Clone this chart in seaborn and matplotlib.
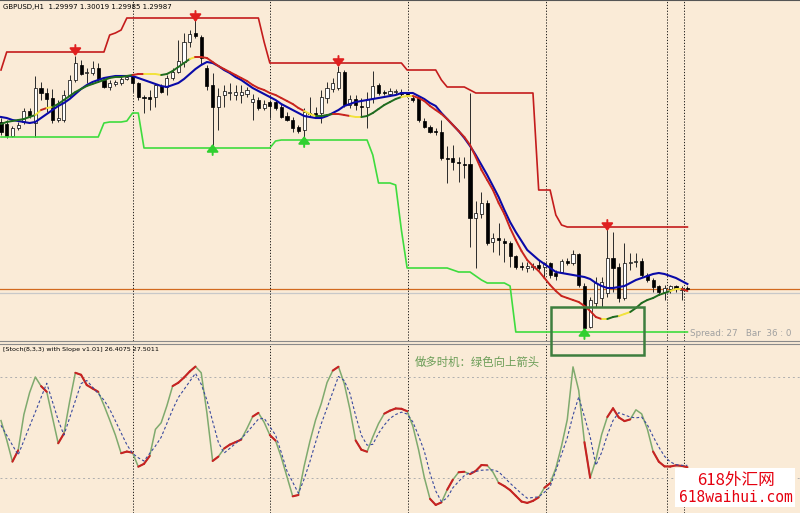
import numpy as np
import pandas as pd
import matplotlib
matplotlib.use("Agg")
import matplotlib.pyplot as plt
import seaborn as sns
from matplotlib.patches import Rectangle

# GBPUSD H1 - 121 bars, prices kept as pips above 1.2900
base = 1.2900

opens = [266, 264, 252, 260, 266, 277, 265, 300, 295, 290,
         268, 268, 293, 308, 323, 315, 315, 320, 308, 301,
         304, 305, 309, 312, 305, 291, 291, 291, 302, 301,
         310, 316, 326, 346, 355, 351, 320, 303, 281, 293,
         295, 293, 293, 294, 286, 288, 280, 286, 286, 281,
         272, 268, 261, 258, 275, 275, 275, 290, 299, 300,
         316, 283, 289, 282, 281, 290, 303, 296, 294, 296,
         296, 295, 290, 290, 267, 261, 257, 256, 230, 230,
         226, 224, 224, 170, 174, 185, 146, 150, 147, 145,
         132, 122, 120, 121, 123, 121, 125, 115, 116, 127,
         125, 134, 102, 61, 85, 90, 95, 130, 121, 90,
         125, 126, 127, 113, 108, 102, 96, 99, 102, 98,
         99.7]
closes = [256, 252, 260, 263, 277, 272, 300, 295, 289, 268,
          270, 293, 308, 325, 314, 316, 320, 309, 301, 305,
          306, 309, 311, 305, 291, 290, 289, 303, 296, 310,
          316, 327, 346, 354, 352, 330, 302, 281, 292, 297,
          296, 296, 296, 298, 289, 280, 284, 282, 280, 271,
          268, 260, 257, 276, 274, 273, 291, 300, 305, 316,
          283, 289, 283, 281, 289, 302, 295, 295, 297, 297,
          294, 292, 288, 268, 261, 256, 256, 230, 229, 226,
          225, 223, 170, 175, 185, 145, 150, 148, 145, 132,
          121, 121, 122, 122, 120, 125, 113, 112, 127, 125,
          134, 103, 60, 88, 105, 106, 130, 120, 90, 125,
          126, 127, 113, 108, 101, 96, 100, 102, 99, 100,
          98.7]
highs = [270, 268, 262, 266, 280, 280, 312, 306, 300, 299,
         288, 298, 313, 332, 328, 320, 327, 325, 310, 308,
         308, 311, 313, 313, 306, 293, 298, 305, 304, 313,
         320, 348, 355, 358, 375, 353, 323, 315, 300, 303,
         305, 303, 303, 301, 294, 291, 288, 288, 288, 284,
         276, 271, 263, 280, 291, 281, 298, 306, 310, 322,
         318, 293, 293, 290, 296, 317, 305, 298, 300, 299,
         299, 296, 292, 292, 270, 263, 260, 268, 242, 243,
         231, 231, 295, 187, 196, 188, 155, 165, 150, 147,
         133, 126, 126, 125, 128, 126, 126, 118, 129, 130,
         138, 135, 105, 91, 111, 111, 166, 156, 125, 145,
         135, 135, 130, 115, 110, 103, 103, 103, 103, 102,
         101.9]
lows = [253, 250, 251, 258, 264, 270, 251, 288, 276, 265,
        266, 266, 291, 306, 313, 305, 313, 308, 300, 298,
        302, 303, 308, 296, 288, 275, 278, 281, 295, 293,
        308, 315, 321, 341, 350, 323, 298, 240, 258, 281,
        288, 288, 285, 291, 268, 278, 278, 270, 278, 270,
        267, 256, 255, 251, 271, 270, 265, 285, 296, 298,
        281, 280, 278, 271, 260, 285, 293, 293, 292, 294,
        292, 291, 286, 266, 260, 255, 253, 228, 205, 218,
        206, 210, 141, 120, 170, 143, 136, 133, 126, 121,
        119, 118, 116, 118, 118, 111, 110, 108, 115, 123,
        123, 101, 58, 60, 81, 81, 91, 96, 86, 88,
        118, 121, 111, 106, 96, 93, 88, 95, 96, 88,
        98.5]

# channel (step) lines
resistance = [318, 336, 336, 336, 336, 336, 336, 336, 336, 336,
              336, 336, 336, 336, 336, 336, 336, 336, 336, 353,
              355, 358, 370, 370, 370, 370, 370, 370, 370, 370,
              370, 370, 370, 370, 370, 370, 370, 370, 370, 370,
              370, 370, 370, 370, 370, 370, 346, 325, 325, 325,
              325, 325, 325, 325, 325, 325, 325, 325, 325, 325,
              325, 325, 325, 325, 325, 325, 325, 325, 325, 325,
              325, 318, 318, 318, 318, 318, 318, 308, 301, 301,
              301, 301, 298, 295, 295, 295, 295, 295, 295, 295,
              295, 295, 295, 295, 198, 198, 198, 173, 163, 161,
              161, 161, 161, 161, 161, 161, 161, 161, 161, 161,
              161, 161, 161, 161, 161, 161, 161, 161, 161, 161,
              161]
support = [251, 251, 251, 251, 251, 251, 251, 251, 251, 251,
           251, 251, 251, 251, 251, 251, 251, 251, 265, 266,
           266, 266, 267, 275, 275, 240, 240, 240, 240, 240,
           240, 240, 240, 240, 240, 240, 240, 240, 240, 240,
           240, 240, 240, 240, 240, 240, 240, 240, 247, 248,
           248, 248, 248, 248, 248, 248, 248, 248, 248, 248,
           248, 248, 248, 248, 248, 233, 205, 205, 205, 203,
           158, 120, 120, 120, 120, 120, 120, 120, 120, 118,
           116, 116, 116, 112, 108, 105, 105, 105, 105, 102,
           56, 56, 56, 56, 56, 56, 56, 56, 56, 56,
           56, 56, 56, 56, 56, 56, 56, 56, 56, 56,
           56, 56, 56, 56, 56, 56, 56, 56, 56, 56,
           56]

# slow moving average (blue)
slow_ma = [271, 270, 268, 267, 266, 265, 266, 270, 274, 278,
           282, 285, 289, 294, 299, 303, 306, 308, 310, 311,
           312, 312, 312, 312, 310, 308, 306, 304, 302, 301,
           303, 305, 309, 314, 319, 323, 326, 325, 322, 318,
           315, 311, 308, 304, 300, 297, 294, 291, 288, 284,
           281, 278, 275, 272, 271, 270, 270, 272, 275, 278,
           282, 284, 286, 287, 288, 289, 290, 291, 292, 293,
           295, 295, 295, 292, 289, 285, 282, 275, 269, 263,
           257, 250, 242, 233, 223, 213, 202, 191, 178, 166,
           156, 147, 138, 133, 128, 124, 120, 116, 115, 114,
           113, 112, 111, 109, 105, 102, 100, 100, 101, 102,
           105, 108, 110, 112, 114, 115, 114, 112, 110, 107,
           104]

# fast moving average with slope colours
fast_ma = [264, 266, 267, 268, 269, 271, 273, 278, 280, 281,
           284, 288, 292, 296, 299, 302, 304, 306, 308, 310,
           311, 311, 312, 313, 314, 314, 314, 314, 313, 314,
           317, 321, 325, 329, 331, 331, 330, 326, 322, 319,
           316, 313, 310, 307, 303, 300, 298, 295, 293, 290,
           287, 284, 280, 277, 274, 272, 272, 273, 274, 274,
           273, 272, 271, 271, 272, 275, 279, 283, 286, 289,
           291, 292, 292, 290, 287, 282, 278, 274, 269, 263,
           257, 251, 243, 231, 218, 208, 198, 185, 174, 160,
           148, 137, 128, 122, 117, 110, 103, 97, 92, 90,
           88, 86, 82, 77, 71, 69, 69, 71, 72, 74,
           76, 80, 85, 88, 90, 93, 95, 97, 99, 99,
           97]
fast_ma_runs = [(0, 6, "g"), (7, 7, "y"), (8, 8, "r"), (9, 9, "y"), (10, 23, "g"),
                (24, 25, "r"), (26, 28, "y"), (29, 33, "g"), (34, 34, "y"), (35, 53, "r"),
                (54, 55, "y"), (56, 58, "g"), (59, 61, "r"), (62, 63, "y"), (64, 70, "g"),
                (71, 72, "y"), (73, 105, "r"), (106, 106, "y"), (107, 108, "g"),
                (109, 110, "y"), (111, 117, "g"), (118, 119, "y"), (120, 120, "r")]

sell_arrows = [13, 34, 59, 106]
buy_arrows = [37, 53, 102]
day_lines = [23.1, 47.0, 71.2, 95.3, 116.4, 119.4]

# Stoch(8,3,3) with slope
stoch_main = [54.1, 42.6, 29.7, 36.4, 57.7, 70.7, 80.0, 74.6, 71.2, 55.9,
              40.6, 46.4, 65.4, 82.5, 81.3, 75.2, 73.2, 71.2, 63.2, 54.5,
              45.5, 34.7, 35.7, 35.0, 26.7, 28.4, 33.1, 48.9, 52.8, 62.9,
              74.6, 76.6, 79.7, 83.3, 86.2, 82.5, 58.6, 30.1, 32.7, 37.5,
              39.8, 41.3, 42.8, 49.4, 56.5, 58.7, 53.1, 45.5, 42.2, 32.3,
              20.7, 9.1, 9.9, 27.1, 41.7, 54.5, 64.3, 76.7, 83.8, 86.1,
              76.2, 60.8, 42.3, 36.8, 35.6, 44.4, 52.3, 58.2, 60.0, 61.3,
              61.1, 59.7, 50.8, 36.8, 20.4, 7.6, 4.0, 5.5, 13.0, 19.0,
              23.4, 23.7, 22.3, 24.2, 27.7, 27.5, 23.5, 17.1, 15.2, 12.8,
              9.4, 6.0, 5.2, 6.4, 8.5, 14.2, 16.9, 25.8, 39.1, 54.7,
              86.0, 72.0, 41.3, 20.1, 30.7, 45.7, 56.2, 61.4, 56.0, 53.8,
              54.8, 60.5, 58.1, 49.1, 35.7, 29.7, 26.9, 26.8, 27.5, 27.2,
              26.4]
stoch_signal = [51.3, 45.4, 39.5, 33.7, 42.2, 50.7, 59.2, 67.8, 76.3, 65.3,
                54.4, 45.5, 55.7, 65.9, 76.1, 77.9, 74.0, 70.1, 66.3, 60.9,
                53.9, 46.8, 39.8, 34.6, 32.0, 30.1, 34.6, 39.0, 44.2, 52.4,
                60.6, 67.8, 72.6, 77.4, 82.2, 75.7, 66.3, 53.7, 41.2, 34.8,
                37.6, 40.5, 43.4, 47.0, 51.0, 55.0, 55.5, 50.5, 45.5, 35.2,
                24.1, 17.5, 10.9, 19.4, 29.7, 41.2, 52.3, 61.6, 71.0, 80.3,
                77.9, 70.3, 57.1, 45.4, 39.5, 40.0, 46.5, 51.4, 55.4, 57.7,
                59.1, 58.0, 53.3, 45.1, 36.0, 22.8, 12.3, 5.9, 8.2, 14.2,
                17.9, 21.4, 23.2, 23.9, 24.6, 24.8, 24.8, 23.7, 20.3, 16.9,
                13.8, 10.7, 8.0, 8.4, 8.8, 11.5, 14.8, 24.4, 34.0, 43.9,
                57.2, 68.1, 56.4, 44.5, 27.5, 35.1, 45.4, 54.2, 58.8, 57.5,
                56.2, 55.7, 56.2, 51.6, 44.7, 38.4, 32.9, 29.6, 27.9, 27.5,
                27.5]
stoch_red = [3, 8, 11, 14, 15, 16, 17, 22, 23, 25, 26, 31, 32, 33, 34, 38, 40, 41, 42,
             45, 48, 52, 59, 63, 64, 68, 69, 70, 71, 76, 77, 79, 81, 83, 84, 85, 88,
             89, 90, 91, 92, 93, 94, 96, 103, 107, 108, 109, 110, 115, 116, 117, 118,
             119, 120]

bg = "#FAEBD7"
ma_colors = {"g": "#1F6B1F", "y": "#F2E23C", "r": "#C8241E"}

df = pd.DataFrame({"open": opens, "high": highs, "low": lows, "close": closes,
                   "res": resistance, "sup": support, "slow": slow_ma, "fast": fast_ma})
df = base + df / 10000.0
df["bar"] = np.arange(len(df))
st = pd.DataFrame({"bar": np.arange(len(stoch_main)), "main": stoch_main, "signal": stoch_signal})

fig = plt.figure(figsize=(8, 5.13), dpi=100, facecolor=bg)
ax = fig.add_axes([0, 172 / 513, 1, 341 / 513], facecolor=bg)
ax2 = fig.add_axes([0, 0, 1, 169 / 513], facecolor=bg)

xlim = (-1 / 5.72, 799 / 5.72)

# candles
bull = df["close"] >= df["open"]
ax.vlines(df["bar"], df["low"], df["high"], color="#2A2A2A", lw=0.7, zorder=2)
body_low = np.minimum(df["open"], df["close"])
body_h = np.maximum(np.abs(df["close"] - df["open"]), 0.00008)
ax.bar(df["bar"], body_h, bottom=body_low, width=0.55,
       color=np.where(bull, "white", "black"), edgecolor="black", linewidth=0.5, zorder=3)

# channel and averages
sns.lineplot(data=df, x="bar", y="res", ax=ax, color="#C41C1C", linewidth=1.2,
             estimator=None, sort=False, zorder=4)
sns.lineplot(data=df, x="bar", y="sup", ax=ax, color="#3EDC3E", linewidth=1.2,
             estimator=None, sort=False, zorder=4)
sns.lineplot(data=df, x="bar", y="slow", ax=ax, color="#0A0AA8", linewidth=1.5,
             estimator=None, sort=False, zorder=5)
for a, b, c in fast_ma_runs:
    for i in range(max(a, 1), b + 1):
        ax.plot([i - 1, i], [df["fast"][i - 1], df["fast"][i]], color=ma_colors[c],
                lw=1.4, solid_capstyle="round", zorder=6)

# signal arrows
for i in sell_arrows:
    r = df["res"][i]
    ax.annotate("", xy=(i, r - 0.0004), xytext=(i, r + 0.0007),
                arrowprops=dict(arrowstyle="-|>,head_length=0.45,head_width=0.35",
                                color="#E02020", lw=1.4, shrinkA=0, shrinkB=0,
                                mutation_scale=10), zorder=7)
for i in buy_arrows:
    s = df["sup"][i]
    ax.annotate("", xy=(i, s + 0.0004), xytext=(i, s - 0.0007),
                arrowprops=dict(arrowstyle="-|>,head_length=0.45,head_width=0.35",
                                color="#30D030", lw=1.4, shrinkA=0, shrinkB=0,
                                mutation_scale=10), zorder=7)

# bid / ask lines
ax.axhline(df["close"].iloc[-1], color="#D2691E", lw=0.9, zorder=1)
ax.axhline(base + 95 / 10000, color="#C8C8C8", lw=0.9, zorder=1)

ax.set_xlim(*xlim)
ax.set_ylim(base + 47 / 10000, base + 388 / 10000)

# stochastic
ax2.axhline(80, color="#AFAFAF", lw=0.7, ls=(0, (2, 3)))
ax2.axhline(20, color="#AFAFAF", lw=0.7, ls=(0, (2, 3)))
sns.lineplot(data=st, x="bar", y="main", ax=ax2, color="#7FAA6E", linewidth=1.1,
             estimator=None, sort=False, zorder=3)
for i in stoch_red:
    ax2.plot([i - 1, i], [stoch_main[i - 1], stoch_main[i]], color="#C82222",
             lw=1.5, solid_capstyle="round", zorder=4)
sns.lineplot(data=st, x="bar", y="signal", ax=ax2, color="#3A4A9E", linewidth=0.8,
             linestyle=(0, (2.5, 2)), estimator=None, sort=False, zorder=5)
ax2.set_xlim(*xlim)
ax2.set_ylim(-0.8, 99.6)

for a in (ax, ax2):
    for d in day_lines:
        a.axvline(d, color="black", lw=0.6, ls=(0, (1.5, 2)), zorder=1)
    a.set_xticks([])
    a.set_yticks([])
    a.set_xlabel("")
    a.set_ylabel("")
    for s in a.spines.values():
        s.set_visible(False)
ax.spines["top"].set_visible(True)
ax.spines["top"].set_color("#555555")
ax.spines["bottom"].set_visible(True)
ax.spines["bottom"].set_color("#8A8A8A")
ax2.spines["top"].set_visible(True)
ax2.spines["top"].set_color("#8A8A8A")

# labels
fig.text(3 / 800, 1 - 7 / 513, "GBPUSD,H1  1.29997 1.30019 1.29985 1.29987",
         fontsize=5, va="center", ha="left", color="black")
fig.text(3 / 800, (513 - 350) / 513, "[Stoch(8,3,3) with Slope v1.01] 26.4075 27.5011",
         fontsize=4.6, va="center", ha="left", color="black")
fig.text(690 / 800, (513 - 334) / 513, "Spread: 27   Bar  36 : 0",
         fontsize=6.3, va="center", ha="left", color="#A0A0A0")
fig.text(415 / 800, (513 - 362) / 513, "做多时机：绿色向上箭头",
         fontsize=8.2, va="center", ha="left", color="#6C9E58",
         family=["Noto Sans CJK SC", "DejaVu Sans"])

# highlight box across both panels
fig.add_artist(Rectangle((551 / 800, (513 - 355) / 513), 93 / 800, 48 / 513,
                         transform=fig.transFigure, fill=False,
                         edgecolor="#3E7E3E", lw=1.8, zorder=10))

# watermark
fig.add_artist(Rectangle((675 / 800, 6 / 513), 120 / 800, 39 / 513,
                         transform=fig.transFigure, facecolor="white",
                         edgecolor="none", zorder=11))
fig.text(736 / 800, (513 - 481) / 513, "618外汇网", fontsize=12, color="#E5000F",
         ha="center", va="center", family=["Noto Sans CJK SC", "DejaVu Sans"], zorder=12)
fig.text(736 / 800, (513 - 498) / 513, "618waihui.com", fontsize=10.5, color="#E5000F",
         ha="center", va="center", family="DejaVu Sans Mono", zorder=12)

fig.savefig("out.png", dpi=100, facecolor=bg)
